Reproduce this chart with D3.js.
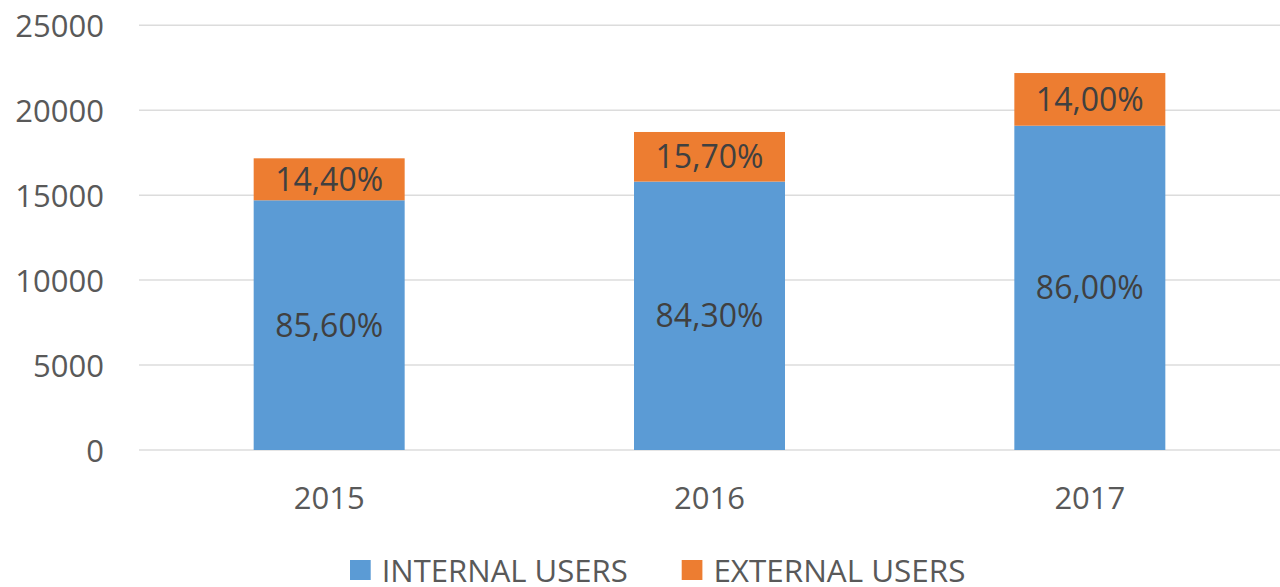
<!DOCTYPE html>
<html>
<head>
<meta charset="utf-8">
<script src="https://cdn.jsdelivr.net/npm/d3@7"></script>
<style>
  html, body { margin: 0; padding: 0; background: #fff; }
  svg { display: block; }
  text { font-family: "Open Sans", "Noto Sans", sans-serif; }
</style>
</head>
<body>
<svg id="chart" width="1280" height="587"></svg>
<script>
const years = ["2015", "2016", "2017"];
const internalUsers = [14700, 15800, 19090];
const externalUsers = [2470, 2920, 3100];
const internalLabels = ["85,60%", "84,30%", "86,00%"];
const externalLabels = ["14,40%", "15,70%", "14,00%"];
const yTicks = [0, 5000, 10000, 15000, 20000, 25000];
const seriesNames = ["INTERNAL USERS", "EXTERNAL USERS"];
const seriesColors = ["#5B9BD5", "#ED7D31"];

const svg = d3.select("#chart");
const x = d3.scaleBand().domain(years).range([139, 1280]).paddingInner(0.603).paddingOuter(0.3015);
const y = d3.scaleLinear().domain([0, 25000]).range([450, 25.3]);

// gridlines
svg.append("g").selectAll("line").data(yTicks).join("line")
  .attr("x1", 139).attr("x2", 1280)
  .attr("y1", d => y(d)).attr("y2", d => y(d))
  .attr("stroke", "#dcdcdc").attr("stroke-width", 1.5);

// y axis labels
const yAxis = d3.axisLeft(y).tickValues(yTicks).tickSize(0).tickPadding(0).tickFormat(d3.format("d"));
const yg = svg.append("g").attr("transform", "translate(104,0)").call(yAxis);
yg.select(".domain").remove();
yg.selectAll("text").attr("font-size", 31).attr("fill", "#595959")
  .attr("font-family", "'Open Sans', sans-serif").attr("dy", "0.36em");

// x axis labels
const xAxis = d3.axisBottom(x).tickSize(0).tickPadding(0);
const xg = svg.append("g").attr("transform", "translate(0,509)").call(xAxis);
xg.select(".domain").remove();
xg.selectAll("text").attr("font-size", 31).attr("fill", "#595959")
  .attr("font-family", "'Open Sans', sans-serif").attr("dy", 0);

// stacked data
const rows = years.map((yr, i) => ({ year: yr, internal: internalUsers[i], external: externalUsers[i] }));
const stack = d3.stack().keys(["internal", "external"])(rows);
const labels = [internalLabels, externalLabels];

stack.forEach((layer, li) => {
  const g = svg.append("g");
  g.selectAll("rect").data(layer).join("rect")
    .attr("x", d => x(d.data.year))
    .attr("width", x.bandwidth())
    .attr("y", d => y(d[1]))
    .attr("height", d => y(d[0]) - y(d[1]))
    .attr("fill", seriesColors[li]);
  g.selectAll("text").data(layer).join("text")
    .attr("x", d => x(d.data.year) + x.bandwidth() / 2)
    .attr("y", d => (y(d[0]) + y(d[1])) / 2)
    .attr("dy", "0.36em")
    .attr("text-anchor", "middle")
    .attr("font-size", 32)
    .attr("fill", "#404040")
    .text((d, i) => labels[li][i]);
});

// legend
const legendX = [350, 681.7];
const legendW = [246, 252];
const lg = svg.append("g");
seriesNames.forEach((name, i) => {
  lg.append("rect").attr("x", legendX[i]).attr("y", 560).attr("width", 20.7).attr("height", 20)
    .attr("fill", seriesColors[i]);
  lg.append("text").attr("x", legendX[i] + 31.7).attr("y", 581.7)
    .attr("font-size", 31).attr("fill", "#595959")
    .attr("textLength", legendW[i]).attr("lengthAdjust", "spacingAndGlyphs")
    .text(name);
});
</script>
</body>
</html>
